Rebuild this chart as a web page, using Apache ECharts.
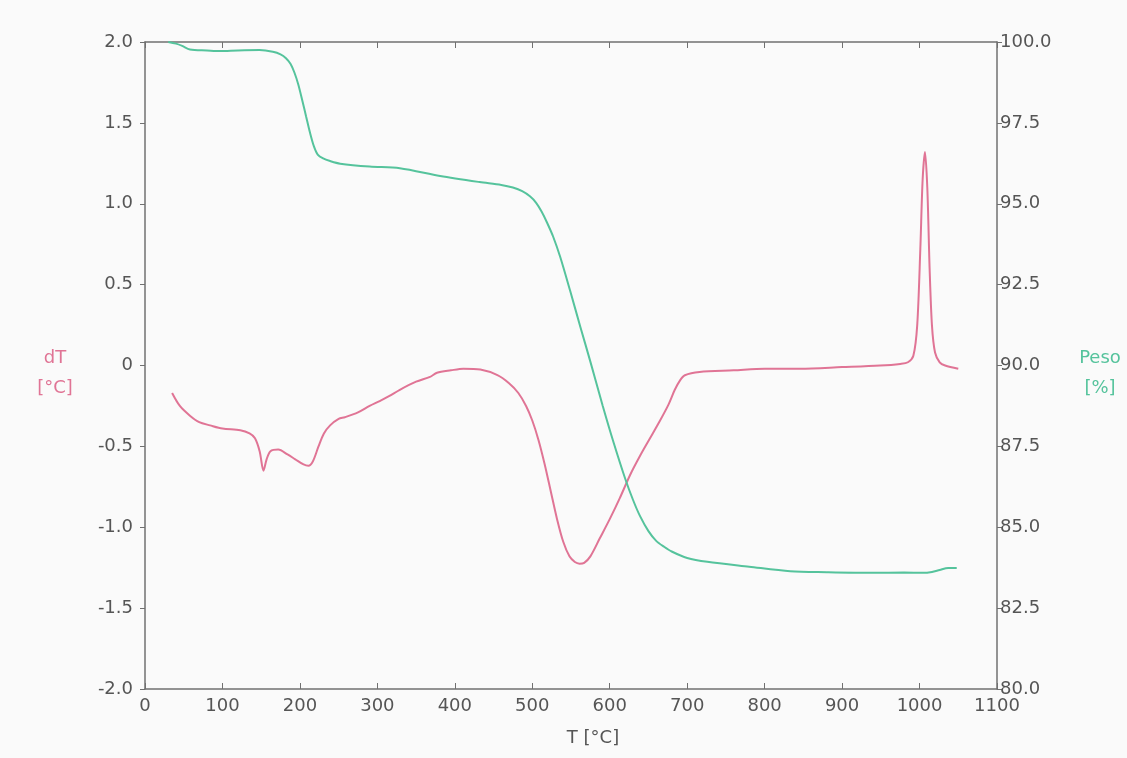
<!DOCTYPE html>
<html>
<head>
<meta charset="utf-8">
<script src="https://cdn.jsdelivr.net/npm/echarts@6/dist/echarts.min.js"></script>
<style>html,body{margin:0;padding:0;background:#fafafa;}#c{width:1127px;height:758px;}</style>
</head>
<body>
<div id="c"></div>
<script>
// dT curve (left axis, °C)
const dtTemps = [35, 45, 58, 70, 84, 100, 123, 135, 142, 148, 153, 157, 162, 172, 184, 194, 204, 211, 217, 224, 231, 239, 250, 258, 275, 290, 303, 315, 329, 350, 368, 377, 395, 411, 433, 455, 470, 482, 492, 500, 508, 516, 524, 532, 540, 548, 555, 561, 567, 575, 587, 600, 613, 626, 639, 652, 665, 676, 684, 691, 697, 716, 760, 800, 846, 900, 949, 975, 985, 992, 997, 1001, 1004, 1007, 1010, 1013, 1016, 1020, 1026, 1033, 1050];
const dtValues = [-0.17, -0.25, -0.31, -0.35, -0.37, -0.39, -0.40, -0.42, -0.45, -0.53, -0.65, -0.58, -0.53, -0.52, -0.55, -0.58, -0.61, -0.62, -0.59, -0.50, -0.42, -0.37, -0.33, -0.32, -0.29, -0.25, -0.22, -0.19, -0.15, -0.10, -0.07, -0.045, -0.03, -0.02, -0.025, -0.06, -0.11, -0.17, -0.25, -0.34, -0.46, -0.61, -0.78, -0.95, -1.09, -1.18, -1.215, -1.225, -1.22, -1.18, -1.07, -0.95, -0.82, -0.68, -0.56, -0.45, -0.34, -0.24, -0.15, -0.09, -0.06, -0.04, -0.03, -0.02, -0.02, -0.01, 0.0, 0.01, 0.02, 0.06, 0.25, 0.72, 1.15, 1.32, 1.10, 0.60, 0.25, 0.08, 0.02, 0.0, -0.02];

// Weight curve (right axis, %)
const wTemps = [30, 40, 48, 58, 80, 97, 120, 148, 165, 175, 182, 188, 193, 198, 203, 208, 213, 218, 223, 230, 239, 252, 290, 329, 381, 432, 460, 475, 487, 497, 505, 512, 519, 527, 536, 549, 562, 575, 591, 605, 620, 630, 639, 650, 660, 670, 680, 700, 726, 780, 833, 880, 940, 980, 1005, 1016, 1026, 1037, 1048];
const wValues = [100.0, 99.95, 99.88, 99.77, 99.74, 99.72, 99.74, 99.75, 99.70, 99.62, 99.50, 99.32, 99.05, 98.68, 98.20, 97.70, 97.20, 96.78, 96.52, 96.40, 96.32, 96.24, 96.15, 96.10, 95.86, 95.67, 95.58, 95.50, 95.39, 95.23, 95.03, 94.76, 94.42, 93.98, 93.36, 92.30, 91.20, 90.12, 88.75, 87.62, 86.50, 85.85, 85.35, 84.88, 84.58, 84.40, 84.25, 84.05, 83.93, 83.78, 83.64, 83.61, 83.59, 83.60, 83.59, 83.62, 83.68, 83.74, 83.74];

const xTicks = {min: 0, max: 1100, interval: 100};
const leftAxisRange = {min: -2, max: 2, interval: 0.5};
const rightAxisRange = {min: 80, max: 100, interval: 2.5};
const leftAxisTitle = 'dT\n[°C]';
const rightAxisTitle = 'Peso\n[%]';
const xAxisTitle = 'T [°C]';

const pink = '#e07495';
const green = '#55c39c';
const axisGray = '#707070';
const textGray = '#555';
const fontFam = 'DejaVu Sans, sans-serif';
const fs = 18;

const chart = echarts.init(document.getElementById('c'));
chart.setOption({
  backgroundColor: '#fafafa',
  animation: false,
  grid: {left: 145, right: 130, top: 42, bottom: 69, containLabel: false},
  graphic: [{
    type: 'text', x: 55, y: 373, silent: true,
    style: {text: leftAxisTitle, fill: pink, font: fs + 'px ' + fontFam, lineHeight: 30,
      align: 'center', verticalAlign: 'middle'}
  }, {
    type: 'text', x: 1100, y: 373, silent: true,
    style: {text: rightAxisTitle, fill: green, font: fs + 'px ' + fontFam, lineHeight: 30,
      align: 'center', verticalAlign: 'middle'}
  }],
  xAxis: [{
    type: 'value', position: 'bottom',
    min: xTicks.min, max: xTicks.max, interval: xTicks.interval,
    name: xAxisTitle, nameLocation: 'middle', nameGap: 40,
    nameTextStyle: {color: textGray, fontSize: fs, fontFamily: fontFam, padding: [0, 0, 0, 44]},
    axisLine: {show: true, onZero: false, lineStyle: {color: axisGray, width: 1.5}},
    axisTick: {show: true, inside: true, length: 6, lineStyle: {color: axisGray}},
    axisLabel: {color: textGray, fontSize: fs, fontFamily: fontFam, margin: 8, formatter: v => String(v)},
    splitLine: {show: false}
  }, {
    type: 'value', position: 'top',
    min: xTicks.min, max: xTicks.max, interval: xTicks.interval,
    axisLine: {show: true, onZero: false, lineStyle: {color: axisGray, width: 1.5}},
    axisTick: {show: true, inside: true, length: 6, lineStyle: {color: axisGray}},
    axisLabel: {show: false},
    splitLine: {show: false}
  }],
  yAxis: [{
    type: 'value', position: 'left',
    min: leftAxisRange.min, max: leftAxisRange.max, interval: leftAxisRange.interval,
    axisLine: {show: true, onZero: false, lineStyle: {color: axisGray, width: 1.5}},
    axisTick: {show: true, inside: false, length: 5, lineStyle: {color: axisGray}},
    axisLabel: {color: textGray, fontSize: fs, fontFamily: fontFam, margin: 12,
      formatter: v => v === 0 ? '0' : v.toFixed(1)},
    splitLine: {show: false}
  }, {
    type: 'value', position: 'right',
    min: rightAxisRange.min, max: rightAxisRange.max, interval: rightAxisRange.interval,
    axisLine: {show: true, onZero: false, lineStyle: {color: axisGray, width: 1.5}},
    axisTick: {show: true, inside: false, length: 5, lineStyle: {color: axisGray}},
    axisLabel: {color: textGray, fontSize: fs, fontFamily: fontFam, margin: 3,
      formatter: v => v.toFixed(1)},
    splitLine: {show: false}
  }],
  series: [{
    type: 'line', name: 'dT', xAxisIndex: 0, yAxisIndex: 0,
    data: dtTemps.map((t, i) => [t, dtValues[i]]),
    smooth: 0.3, showSymbol: false,
    lineStyle: {color: pink, width: 2}
  }, {
    type: 'line', name: 'Peso', xAxisIndex: 0, yAxisIndex: 1,
    data: wTemps.map((t, i) => [t, wValues[i]]),
    smooth: 0.3, showSymbol: false,
    lineStyle: {color: green, width: 2}
  }]
});
</script>
</body>
</html>
